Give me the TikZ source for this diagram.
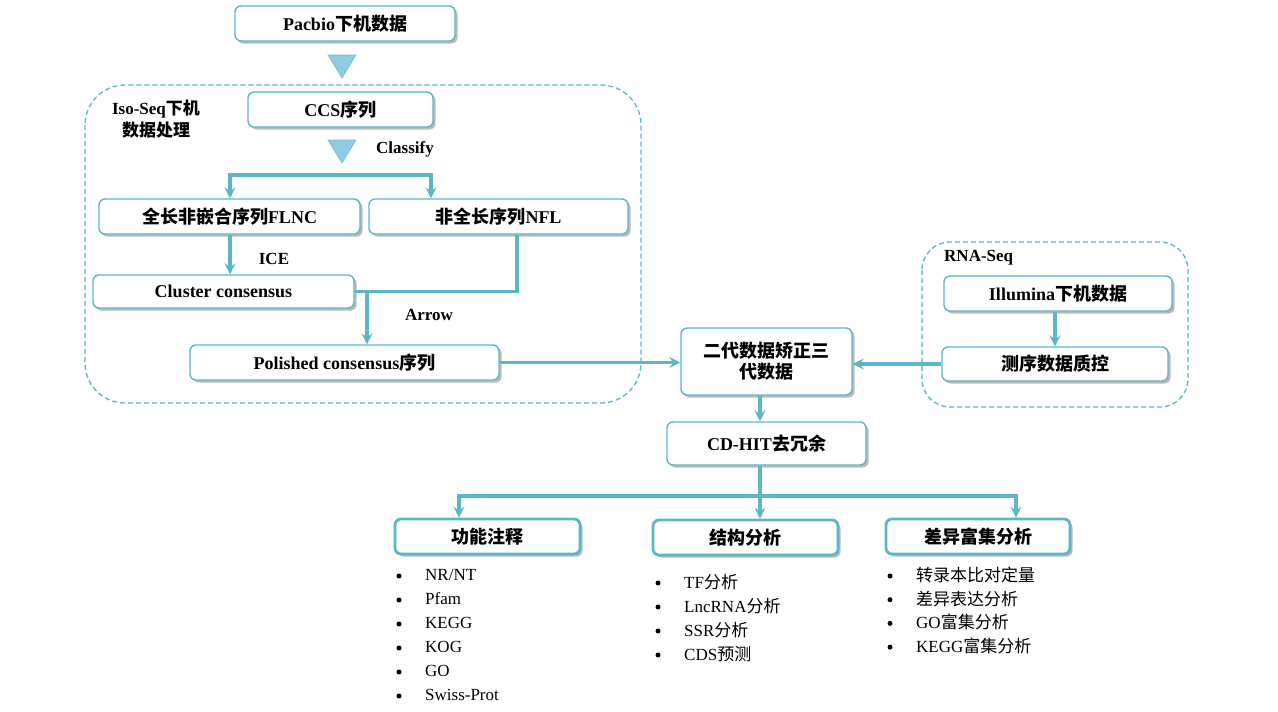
\documentclass[tikz,border=0pt]{standalone}
\usepackage{fontspec}
\setmainfont{Liberation Serif}
\newfontfamily\cjk{Noto Sans CJK SC}
\newfontfamily\cjkb{Noto Sans CJK SC Bold}
\usetikzlibrary{arrows.meta,shadows}
\newcommand{\zh}[1]{{\cjkb #1}}
\newcommand{\zr}[1]{{\cjk #1}}
\definecolor{teal1}{HTML}{5BB7C8}
\definecolor{tri}{HTML}{8FCBE3}
\begin{document}
\begin{tikzpicture}[x=1pt,y=-1pt,
  box/.style={draw=teal1,line width=1.4pt,rounded corners=6pt,fill=white,
    drop shadow={shadow xshift=2.5pt,shadow yshift=-2.5pt,fill=black!45,opacity=0.6},
    font=\fontsize{18}{21}\selectfont\bfseries,inner sep=2pt,align=center},
  bbox/.style={box,line width=2.8pt},
  grp/.style={draw=teal1,line width=1.3pt,dashed,dash pattern=on 5pt off 3pt,rounded corners=40pt},
  conn/.style={draw=teal1,line width=3.4pt},
  arr/.style={conn,-{Stealth[length=11pt,width=11pt,inset=4pt]}},
  lbl/.style={font=\fontsize{17}{20}\selectfont\bfseries,inner sep=0pt},
  item/.style={font=\fontsize{17}{20}\selectfont,anchor=west,inner sep=0pt},
  dot/.style={circle,fill=black,inner sep=0pt,minimum size=5pt}]
\useasboundingbox (0,0) rectangle (1278,712);

% groups
\draw[grp] (85,85) rectangle (641,403);
\draw[grp,rounded corners=28pt] (922,242) rectangle (1188,407);

% boxes
\node[box,minimum width=220,minimum height=35] (pacbio) at (345,23.5) {Pacbio\zh{下机数据}};
\node[box,minimum width=185,minimum height=35] (ccs) at (340.5,109.5) {CCS\zh{序列}};
\node[box,minimum width=261,minimum height=35] (flnc) at (229.5,216.5) {\zh{全长非嵌合序列}FLNC};
\node[box,minimum width=259,minimum height=35] (nfl) at (498.5,216.5) {\zh{非全长序列}NFL};
\node[box,minimum width=261,minimum height=33] (cluster) at (223.5,291.5) {Cluster consensus};
\node[box,minimum width=309,minimum height=35] (polished) at (344.5,362.5) {Polished consensus\zh{序列}};
\node[box,minimum width=171,minimum height=67,text width=150] (erdai) at (766.5,361.5) {\zh{二代数据矫正三\\代数据}};
\node[box,minimum width=228,minimum height=35] (illumina) at (1058,293.5) {Illumina\zh{下机数据}};
\node[box,minimum width=226,minimum height=34] (cexu) at (1055,364) {\zh{测序数据质控}};
\node[box,minimum width=199,minimum height=43] (cdhit) at (766.5,443.5) {CD-HIT\zh{去冗余}};
\node[bbox,minimum width=185,minimum height=35] (gn) at (487.5,536.5) {\zh{功能注释}};
\node[bbox,minimum width=185,minimum height=35] (jg) at (745.5,537.5) {\zh{结构分析}};
\node[bbox,minimum width=184,minimum height=35] (cy) at (978,536.5) {\zh{差异富集分析}};

% labels
\node[lbl,align=center] (iso) at (156,119) {Iso-Seq\zh{下机}\\[2pt]\zh{数据处理}};
\node[lbl,anchor=west] (classify) at (376,149) {Classify};
\node[lbl] (ice) at (274,259) {ICE};
\node[lbl] (arrowl) at (429,315) {Arrow};
\node[lbl,anchor=west] (rnaseq) at (944,258) {RNA-Seq};

% triangles
\draw[fill=tri,draw=teal1!70!tri,line width=0.6pt] (328,55) -- (356,55) -- (342,78) -- cycle;
\draw[fill=tri,draw=teal1!70!tri,line width=0.6pt] (328,140) -- (356,140) -- (342,163) -- cycle;

% connectors
\coordinate (bl) at (230,175);
\coordinate (br) at (431,175);
\draw[conn] ([xshift=-1.7pt]bl) -- ([xshift=1.7pt]br);
\draw[arr] (bl) -- (bl |- flnc.north);
\draw[arr] (br) -- (br |- nfl.north);
\draw[arr] (flnc.south -| bl) -- (bl |- cluster.north);
\coordinate (nflx) at (517,0);
\draw[conn] (nfl.south -| nflx) |- (cluster.east);
\coordinate (m) at (367,291.5);
\draw[arr] (m) -- (m |- polished.north);
\draw[arr] (polished.east) -- (polished.east -| erdai.west);
\draw[arr] (illumina.south -| cexu.north) -- (cexu.north);
\draw[arr] (cexu.west) -- (cexu.west -| erdai.east);
\coordinate (cx) at (760,496);
\draw[arr] (erdai.south -| cx) -- (cdhit.north -| cx);
\draw[conn] (cdhit.south -| cx) -- (cx);
\coordinate (lx) at (459,496);
\coordinate (rx) at (1016,496);
\draw[conn] ([xshift=-1.7pt]lx) -- ([xshift=1.7pt]rx);
\draw[arr] (lx) -- (lx |- gn.north);
\draw[arr] (cx) -- (cx |- jg.north);
\draw[arr] (rx) -- (rx |- cy.north);

% lists
\foreach \t [count=\i] in {NR/NT,Pfam,KEGG,KOG,GO,Swiss-Prot}{
  \node[dot] (b1\i) at (399,{576+24*(\i-1)}) {};
  \node[item] (t1\i) at (425,{575+24*(\i-1)}) {\t};
}
\foreach \t [count=\i] in {TF\zr{分析},LncRNA\zr{分析},SSR\zr{分析},CDS\zr{预测}}{
  \node[dot] (b2\i) at (658,{583+24*(\i-1)}) {};
  \node[item] (t2\i) at (684,{582+24*(\i-1)}) {\t};
}
\foreach \t [count=\i] in {\zr{转录本比对定量},\zr{差异表达分析},GO\zr{富集分析},KEGG\zr{富集分析}}{
  \node[dot] (b3\i) at (890,{576+23.7*(\i-1)}) {};
  \node[item] (t3\i) at (916,{575+23.7*(\i-1)}) {\t};
}
\end{tikzpicture}
\end{document}
